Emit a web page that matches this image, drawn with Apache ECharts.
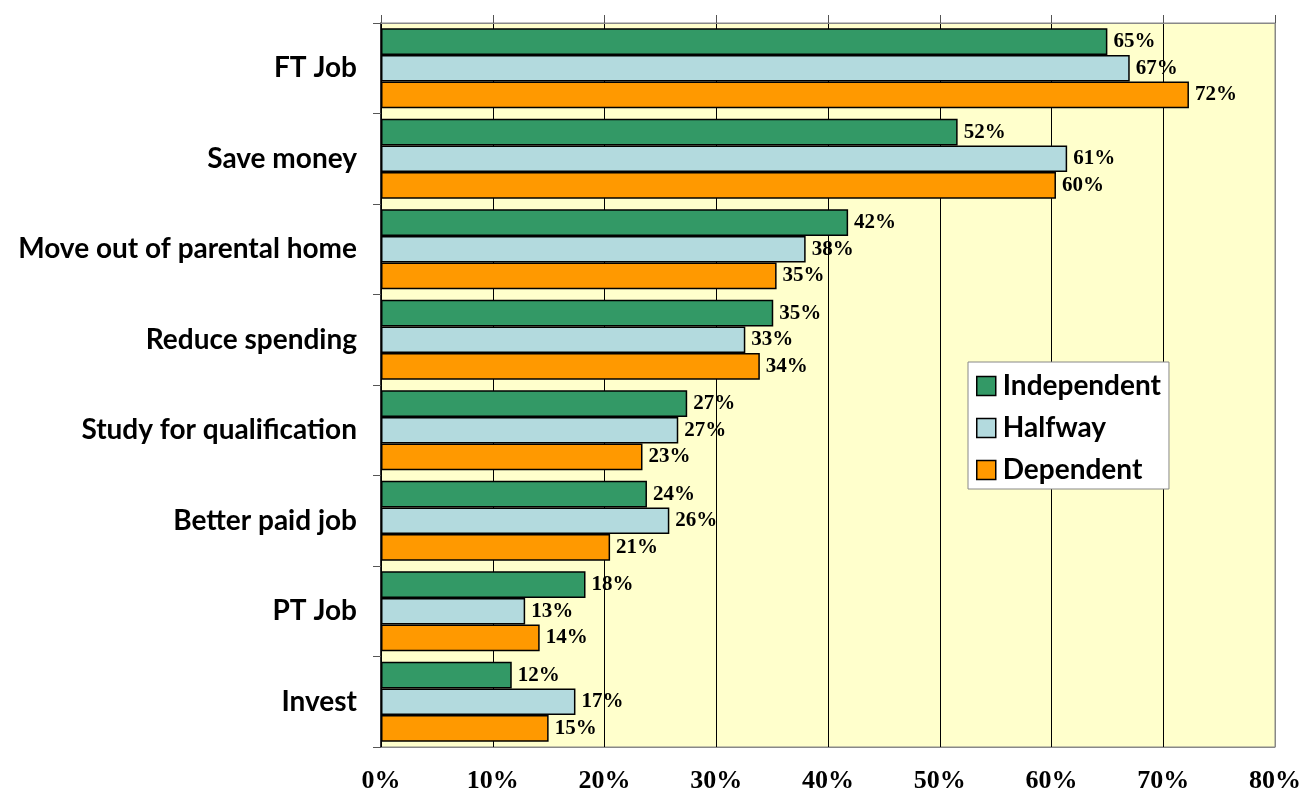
<!DOCTYPE html>
<html>
<head>
<meta charset="utf-8">
<script src="https://cdn.jsdelivr.net/npm/echarts@6/dist/echarts.min.js"></script>
<style>
  html, body { margin: 0; padding: 0; background: #fff; }
  #chart { width: 1301px; height: 797px; }
</style>
</head>
<body>
<div id="chart"></div>
<script>
// categories, top to bottom
const categories = ['FT Job', 'Save money', 'Move out of parental home', 'Reduce spending',
  'Study for qualification', 'Better paid job', 'PT Job', 'Invest']
const seriesNames = ['Independent', 'Halfway', 'Dependent']
const independent = [65.0, 51.6, 41.8, 35.1, 27.4, 23.8, 18.3, 11.7]
const halfway = [67.0, 61.4, 38.0, 32.6, 26.6, 25.8, 12.9, 17.4]
const dependent = [72.3, 60.4, 35.4, 33.9, 23.4, 20.5, 14.2, 15.0]
const xTicks = [0, 10, 20, 30, 40, 50, 60, 70, 80]

const colors = ['#339966', '#b3dade', '#ff9900']
const sans = 'Lato, "Open Sans", sans-serif'
const serif = '"Liberation Serif", "DejaVu Serif", serif'

const chart = echarts.init(document.getElementById('chart'))

const makeSeries = (name, data, i) => ({
  name: name,
  type: 'bar',
  data: data,
  barGap: '0%',
  barCategoryGap: '11.6%',
  itemStyle: { color: colors[i], borderColor: '#000', borderWidth: 1.5 },
  label: {
    show: true,
    position: 'right',
    distance: 6,
    color: '#000',
    fontFamily: serif,
    fontWeight: 'bold',
    fontSize: 21,
    formatter: (p) => `${Math.round(p.value)}%`
  }
})

// last split line sits on the plot border, keep it gray
const splitColors = xTicks.map((t, i) => i === xTicks.length - 1 ? '#888' : '#000')

const options = {
  animation: false,
  grid: {
    show: true,
    left: 381,
    right: 26,
    top: 23,
    bottom: 50,
    outerBoundsMode: 'none',
    containLabel: false,
    backgroundColor: '#ffffcc',
    borderColor: '#888',
    borderWidth: 1
  },
  legend: {
    orient: 'vertical',
    left: 968,
    top: 362,
    data: seriesNames,
    backgroundColor: '#fff',
    borderColor: '#888',
    borderWidth: 1,
    padding: [10, 8, 5, 8],
    itemWidth: 19,
    itemHeight: 19,
    itemGap: 14,
    icon: 'rect',
    itemStyle: { borderColor: '#000', borderWidth: 1.5 },
    textStyle: { fontFamily: sans, fontWeight: 'bold', fontSize: 28, color: '#000', padding: [0, 0, 0, 2] }
  },
  xAxis: [
    {
      type: 'value',
      position: 'bottom',
      min: 0,
      max: 80,
      interval: 10,
      axisLine: { show: true, lineStyle: { color: '#888', width: 1 } },
      axisTick: { show: false },
      axisLabel: {
        margin: 21,
        color: '#000',
        fontFamily: serif,
        fontWeight: 'bold',
        fontSize: 26,
        formatter: (v) => `${v}%`
      },
      splitLine: { show: true, lineStyle: { color: splitColors, width: 1 } }
    },
    {
      type: 'value',
      position: 'top',
      min: 0,
      max: 80,
      interval: 10,
      axisLine: { show: true, lineStyle: { color: '#888', width: 1 } },
      axisTick: { show: true, length: 8, lineStyle: { color: '#555' } },
      axisLabel: { show: false },
      splitLine: { show: false }
    }
  ],
  yAxis: {
    type: 'category',
    data: categories,
    inverse: true,
    axisLine: { show: true, lineStyle: { color: '#000', width: 1.5 } },
    axisTick: { show: true, length: 8, lineStyle: { color: '#555' } },
    axisLabel: {
      margin: 24,
      color: '#000',
      fontFamily: sans,
      fontWeight: 'bold',
      fontSize: 28
    }
  },
  series: [
    makeSeries(seriesNames[0], independent, 0),
    makeSeries(seriesNames[1], halfway, 1),
    makeSeries(seriesNames[2], dependent, 2)
  ]
}
chart.setOption(options)
window.onresize = () => { chart.resize() }
</script>
</body>
</html>
